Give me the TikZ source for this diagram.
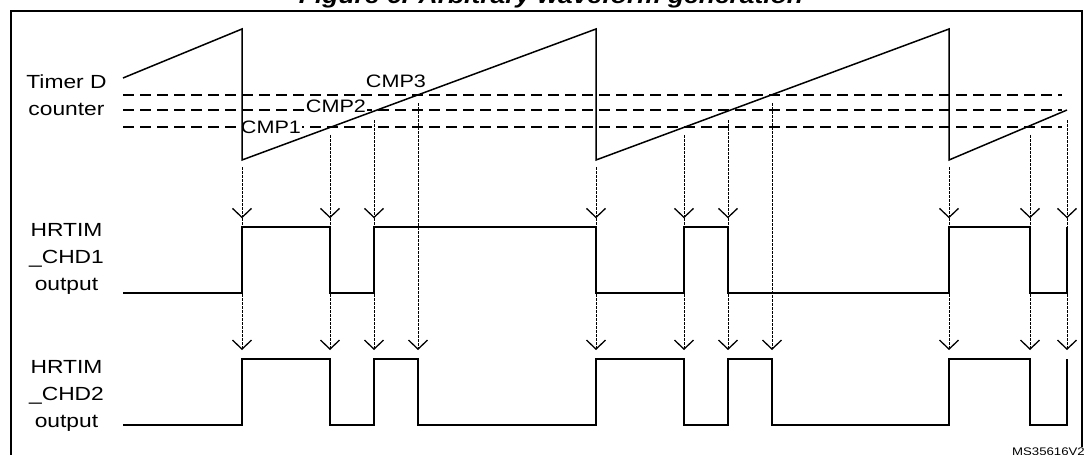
\documentclass[tikz,border=0pt]{standalone}
\usepackage{fontspec}
\setmainfont{Liberation Sans}[FakeStretch=1.2]
\usetikzlibrary{arrows.meta}

\tikzset{
  frame/.style={line width=2pt},
  ramp/.style={line width=1.5pt, line join=miter},
  cmpline/.style={line width=1.8pt, dash pattern=on 11pt off 6pt},
  wave/.style={line width=1.8pt},
  probe/.style={line width=1pt, dash pattern=on 2.5pt off 1.5pt, ->},
  lbl/.style={font=\fontsize{19}{27}\selectfont, inner sep=0pt, align=center},
  cmplbl/.style={font=\fontsize{18}{20}\selectfont, inner sep=0.6pt, fill=white}
}

\begin{document}
\begin{tikzpicture}[x=1pt, y=-1pt,
    >={Straight Barb[length=9pt, width=19pt, line width=1.3pt]}]
  \useasboundingbox (0,0) rectangle (1087,455);

  % title, cut off at the top
  \node[font=\bfseries\itshape\fontsize{22}{26}\selectfont, anchor=base, inner sep=0pt]
    (title) at (551,4) {Figure 6. Arbitrary waveform generation};

  % outer frame
  \draw[frame] (11,470) -- (11,11) -- (1082,11) -- (1082,470);

  % compare levels
  \draw[cmpline] (123,95) -- (1062,95);
  \draw[cmpline] (123,110) -- (1062,110);
  \draw[cmpline] (123,126.7) -- (1062,126.7);
  \node[cmplbl] (cmp3) at (396,81.7) {CMP3};
  \node[cmplbl] (cmp2) at (336,106.7) {CMP2};
  \node[cmplbl] (cmp1) at (271,127.5) {CMP1};

  % counter
  \draw[ramp] (123,78) -- (242,29) -- (242,160) -- (596,29) -- (596,160)
    -- (949,29) -- (949,160) -- (1067,110);

  % events
  \foreach \x/\y in {242/167,330/135,374/120,596/167,684/135,728/120,
                     949/167,1030/135,1067/120}{
    \coordinate (top\x) at (\x,\y);
    \coordinate (chA\x) at (\x,218.3);
    \coordinate (chB\x) at (\x,350);
    \draw[probe] (top\x) -- (chA\x);
    \draw[probe] (chA\x) -- (chB\x);
  }
  \foreach \x/\y in {418/103,772/103}{
    \coordinate (top\x) at (\x,\y);
    \coordinate (chB\x) at (\x,350);
    \draw[probe] (top\x) -- (chB\x);
  }

  % outputs
  \draw[wave] (123,292.7) -| (242,226.7) -| (330,292.7) -| (374,226.7)
    -| (596,292.7) -| (684,226.7) -| (728,292.7) -| (949,226.7)
    -| (1030,292.7) -| (1067,226.7);
  \draw[wave] (123,425) -| (242,359.3) -| (330,425) -| (374,359.3)
    -| (418,425) -| (596,359.3) -| (684,425) -| (728,359.3)
    -| (772,425) -| (949,359.3) -| (1030,425) -| (1067,359.3);

  % labels
  \node[lbl, anchor=north] (counter) at (66.5,74.5) {Timer D\\counter};
  \node[lbl, anchor=north] (chd1) at (66.5,223) {HRTIM\\\_CHD1\\output};
  \node[lbl, anchor=north] (chd2) at (66.5,360) {HRTIM\\\_CHD2\\output};

  \node[font=\fontsize{11}{13}\selectfont, inner sep=1pt, fill=white, anchor=base east]
    (ref) at (1086,455.5) {MS35616V2};
\end{tikzpicture}
\end{document}
